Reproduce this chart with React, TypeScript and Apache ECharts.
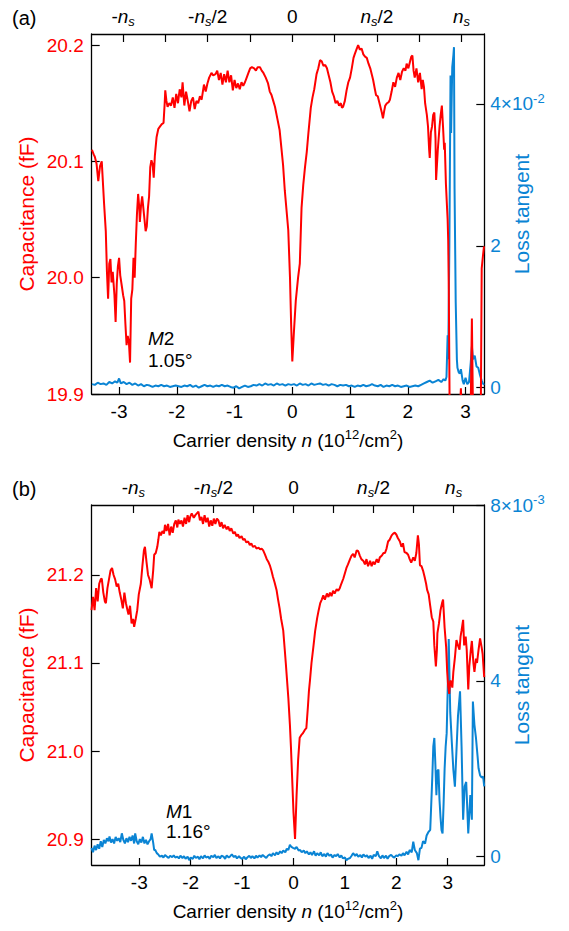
import React, { useEffect, useRef } from "react";
import * as echarts from "echarts";

const RED = "#ff0000";
const BLUE = "#0a84d4";
const FONT = "'Liberation Sans', Arial, Helvetica, sans-serif";

// ---------- panel (a) : M2, 1.05 deg ----------
const aCapN = [
  -3.47, -3.44, -3.42, -3.39, -3.36, -3.33, -3.3, -3.28, -3.26, -3.23, -3.21, -3.19, -3.17, -3.15, -3.13, -3.11,
  -3.08, -3.06, -3.04, -3.02, -3.0, -2.98, -2.95, -2.93, -2.91, -2.89, -2.87, -2.85, -2.83, -2.81, -2.79, -2.77,
  -2.75, -2.73, -2.71, -2.69, -2.67, -2.65, -2.64, -2.62, -2.6, -2.58, -2.56, -2.54, -2.52, -2.5, -2.48, -2.46,
  -2.44, -2.42, -2.4, -2.38, -2.35, -2.32, -2.29, -2.26, -2.23, -2.21, -2.2, -2.18, -2.16, -2.13, -2.1, -2.07,
  -2.04, -2.01, -1.98, -1.95, -1.92, -1.9, -1.87, -1.84, -1.81, -1.78, -1.75, -1.72, -1.69, -1.66, -1.63, -1.6,
  -1.57, -1.53, -1.5, -1.47, -1.44, -1.4, -1.37, -1.33, -1.3, -1.27, -1.24, -1.21, -1.18, -1.15, -1.12, -1.09,
  -1.06, -1.03, -1.0, -0.97, -0.94, -0.91, -0.88, -0.85, -0.82, -0.79, -0.76, -0.73, -0.7, -0.66, -0.63, -0.6,
  -0.56, -0.53, -0.5, -0.46, -0.42, -0.39, -0.36, -0.33, -0.3, -0.26, -0.22, -0.19, -0.16, -0.13, -0.1, -0.07,
  -0.04, -0.02, 0.0, 0.03, 0.06, 0.1, 0.13, 0.16, 0.19, 0.22, 0.25, 0.28, 0.32, 0.35, 0.38, 0.42,
  0.45, 0.48, 0.51, 0.54, 0.57, 0.6, 0.63, 0.66, 0.69, 0.72, 0.75, 0.78, 0.81, 0.84, 0.86, 0.88,
  0.91, 0.94, 0.97, 1.0, 1.03, 1.06, 1.08, 1.11, 1.14, 1.17, 1.2, 1.23, 1.26, 1.29, 1.32, 1.35,
  1.38, 1.4, 1.43, 1.45, 1.48, 1.52, 1.55, 1.57, 1.59, 1.61, 1.64, 1.67, 1.69, 1.72, 1.75, 1.78,
  1.81, 1.84, 1.87, 1.9, 1.93, 1.96, 1.98, 2.01, 2.04, 2.06, 2.08, 2.1, 2.12, 2.15, 2.18, 2.21,
  2.24, 2.26, 2.28, 2.3, 2.33, 2.35, 2.37, 2.38, 2.4, 2.42, 2.44, 2.46, 2.48, 2.49, 2.52, 2.55,
  2.57, 2.59, 2.61, 2.63, 2.64, 2.66, 2.68, 2.69, 2.7, 2.71, 2.73, 2.76, 2.8, 2.84, 2.88, 2.92,
  2.94, 2.98, 3.02, 3.06, 3.09, 3.11, 3.13, 3.16, 3.19, 3.21, 3.23, 3.26, 3.28, 3.3, 3.32,
];
const aCap = [
  20.11, 20.106, 20.104, 20.098, 20.083, 20.096, 20.1, 20.082, 20.064, 20.04, 20.005, 19.982, 20.012, 20.016, 19.996, 20.005,
  19.985, 19.962, 19.995, 20.01, 20.017, 20.002, 19.992, 19.985, 19.98, 19.96, 19.942, 19.95, 19.945, 19.927, 19.982, 19.99,
  20.017, 20.0, 20.03, 20.055, 20.072, 20.06, 20.048, 20.062, 20.07, 20.06, 20.05, 20.04, 20.044, 20.06, 20.07, 20.095,
  20.101, 20.098, 20.086, 20.105, 20.121, 20.128, 20.13, 20.132, 20.133, 20.15, 20.161, 20.152, 20.147, 20.15, 20.148, 20.155,
  20.146, 20.158, 20.15, 20.162, 20.155, 20.168, 20.148, 20.16, 20.152, 20.143, 20.152, 20.155, 20.145, 20.152, 20.15, 20.156,
  20.153, 20.166, 20.16, 20.167, 20.172, 20.176, 20.174, 20.175, 20.178, 20.17, 20.176, 20.166, 20.175, 20.168, 20.178, 20.168,
  20.174, 20.161, 20.17, 20.163, 20.167, 20.162, 20.168, 20.165, 20.168, 20.172, 20.176, 20.18, 20.181, 20.18, 20.178, 20.181,
  20.181, 20.178, 20.176, 20.172, 20.167, 20.16, 20.157, 20.152, 20.147, 20.137, 20.127, 20.112, 20.097, 20.075, 20.058, 20.041,
  20.0, 19.96, 19.928, 19.955, 19.98, 20.0, 20.012, 20.06, 20.08, 20.095, 20.108, 20.125, 20.146, 20.155, 20.162, 20.175,
  20.18, 20.187, 20.186, 20.182, 20.183, 20.18, 20.174, 20.168, 20.16, 20.156, 20.15, 20.152, 20.148, 20.15, 20.146, 20.147,
  20.152, 20.161, 20.168, 20.172, 20.18, 20.189, 20.192, 20.196, 20.2, 20.196, 20.197, 20.192, 20.19, 20.189, 20.184, 20.18,
  20.174, 20.17, 20.162, 20.157, 20.156, 20.148, 20.142, 20.137, 20.143, 20.148, 20.15, 20.151, 20.153, 20.16, 20.168, 20.164,
  20.172, 20.176, 20.17, 20.177, 20.18, 20.178, 20.184, 20.18, 20.186, 20.19, 20.191, 20.178, 20.172, 20.18, 20.168, 20.176,
  20.162, 20.17, 20.164, 20.15, 20.14, 20.13, 20.11, 20.103, 20.125, 20.13, 20.14, 20.142, 20.12, 20.084, 20.11, 20.13,
  20.14, 20.148, 20.13, 20.11, 20.116, 20.081, 20.06, 20.05, 20.032, 19.99, 19.85, 19.82, 19.84, 19.85, 19.86, 19.905,
  19.87, 19.85, 19.84, 19.86, 19.89, 19.965, 19.88, 19.85, 19.88, 19.89, 19.86, 19.85, 20.008, 20.018, 20.027,
];
// loss tangent in units of 10^-2
const aLossN = [
  -3.47, -3.42, -3.37, -3.32, -3.27, -3.22, -3.17, -3.12, -3.07, -3.03, -3.0, -2.97, -2.92, -2.87, -2.82, -2.77,
  -2.72, -2.67, -2.62, -2.57, -2.52, -2.47, -2.42, -2.37, -2.32, -2.27, -2.22, -2.17, -2.12, -2.07, -2.02, -1.97,
  -1.92, -1.87, -1.82, -1.77, -1.72, -1.67, -1.62, -1.57, -1.52, -1.47, -1.42, -1.37, -1.32, -1.27, -1.22, -1.17,
  -1.12, -1.07, -1.02, -0.97, -0.92, -0.87, -0.82, -0.77, -0.72, -0.67, -0.62, -0.57, -0.52, -0.47, -0.42, -0.37,
  -0.32, -0.27, -0.22, -0.17, -0.12, -0.07, -0.02, 0.03, 0.08, 0.13, 0.18, 0.23, 0.28, 0.33, 0.38, 0.43,
  0.48, 0.53, 0.58, 0.63, 0.68, 0.73, 0.78, 0.83, 0.88, 0.93, 0.98, 1.03, 1.08, 1.13, 1.18, 1.23,
  1.28, 1.33, 1.38, 1.43, 1.48, 1.53, 1.58, 1.63, 1.68, 1.73, 1.78, 1.83, 1.88, 1.93, 1.98, 2.03,
  2.08, 2.13, 2.18, 2.23, 2.28, 2.33, 2.38, 2.43, 2.48, 2.53, 2.58, 2.62, 2.65, 2.67, 2.69, 2.7,
  2.72, 2.74, 2.75, 2.77, 2.79, 2.8, 2.81, 2.83, 2.85, 2.86, 2.88, 2.9, 2.92, 2.95, 2.97, 3.0,
  3.03, 3.06, 3.09, 3.11, 3.13, 3.16, 3.19, 3.22, 3.25, 3.28, 3.3, 3.32,
];
const aLoss = [
  0.05, 0.04, 0.07, 0.05, 0.06, 0.04, 0.08, 0.06, 0.09, 0.07, 0.13, 0.06, 0.08, 0.05, 0.07, 0.04,
  0.06, 0.03, 0.05, 0.02, 0.04, 0.03, 0.01, 0.03, 0.02, 0.04, 0.02, 0.03, 0.01, 0.02, 0.03, 0.02,
  0.01, 0.03, 0.02, 0.04, 0.01, 0.03, 0.0, 0.02, 0.04, 0.02, 0.03, 0.01, 0.03, 0.02, 0.04, 0.02,
  0.03, 0.01, 0.0, 0.02, -0.01, 0.01, 0.03, 0.01, 0.02, 0.04, 0.03, 0.05, 0.03, 0.06, 0.04, 0.05,
  0.03, 0.06, 0.04, 0.05, 0.03, 0.05, 0.04, 0.05, 0.03, 0.06, 0.04, 0.05, 0.03, 0.06, 0.04, 0.05,
  0.06, 0.04, 0.05, 0.03, 0.05, 0.04, 0.02, 0.04, 0.03, 0.04, 0.02, 0.03, 0.01, 0.03, 0.02, 0.04,
  0.02, 0.03, 0.05, 0.03, 0.02, 0.04, 0.01, 0.03, 0.02, 0.04, 0.02, 0.03, 0.01, 0.02, 0.03, 0.01,
  0.02, 0.03, 0.02, 0.04, 0.06, 0.08, 0.1, 0.07, 0.09, 0.11, 0.08, 0.12, 0.1, 0.15, 0.74, 0.4,
  2.0, 4.4, 3.59, 4.52, 4.69, 4.8, 2.8, 1.2, 0.4, 0.28, 0.22, 0.2, 0.26, 0.1, 0.05, 0.14,
  0.05, 0.08, 0.35, 0.58, 0.4, 0.45, 0.3, 0.28, 0.18, 0.1, 0.06, 0.04,
];

// ---------- panel (b) : M1, 1.16 deg ----------
const bCapN = [
  -3.93, -3.9, -3.87, -3.84, -3.81, -3.78, -3.75, -3.73, -3.7, -3.67, -3.65, -3.62, -3.59, -3.56, -3.53, -3.5,
  -3.47, -3.44, -3.41, -3.38, -3.35, -3.32, -3.29, -3.26, -3.23, -3.21, -3.18, -3.15, -3.12, -3.1, -3.07, -3.04,
  -3.01, -2.97, -2.94, -2.91, -2.89, -2.86, -2.83, -2.8, -2.78, -2.76, -2.73, -2.71, -2.68, -2.65, -2.63, -2.61,
  -2.58, -2.55, -2.52, -2.5, -2.47, -2.44, -2.41, -2.38, -2.35, -2.32, -2.29, -2.26, -2.24, -2.21, -2.18, -2.15,
  -2.12, -2.09, -2.06, -2.03, -2.01, -1.98, -1.94, -1.91, -1.88, -1.85, -1.82, -1.79, -1.76, -1.73, -1.7, -1.67,
  -1.64, -1.61, -1.58, -1.55, -1.52, -1.49, -1.46, -1.43, -1.4, -1.37, -1.34, -1.3, -1.27, -1.24, -1.21, -1.17,
  -1.14, -1.11, -1.08, -1.05, -1.01, -0.98, -0.95, -0.92, -0.88, -0.85, -0.82, -0.79, -0.75, -0.72, -0.68, -0.65,
  -0.62, -0.59, -0.56, -0.52, -0.49, -0.46, -0.43, -0.4, -0.37, -0.33, -0.3, -0.27, -0.24, -0.2, -0.17, -0.15,
  -0.13, -0.1, -0.07, -0.05, -0.02, 0.0, 0.03, 0.06, 0.09, 0.12, 0.15, 0.18, 0.22, 0.25, 0.28, 0.3,
  0.32, 0.35, 0.39, 0.42, 0.46, 0.49, 0.52, 0.55, 0.58, 0.61, 0.65, 0.68, 0.71, 0.74, 0.77, 0.8,
  0.84, 0.87, 0.9, 0.93, 0.97, 1.0, 1.03, 1.06, 1.1, 1.13, 1.16, 1.19, 1.23, 1.26, 1.29, 1.32,
  1.36, 1.39, 1.42, 1.45, 1.49, 1.52, 1.55, 1.58, 1.62, 1.65, 1.68, 1.72, 1.75, 1.78, 1.81, 1.84,
  1.87, 1.91, 1.94, 1.97, 2.0, 2.03, 2.07, 2.1, 2.13, 2.16, 2.2, 2.23, 2.26, 2.29, 2.33, 2.36,
  2.39, 2.42, 2.44, 2.46, 2.49, 2.52, 2.55, 2.58, 2.6, 2.63, 2.66, 2.69, 2.72, 2.74, 2.77, 2.79,
  2.8, 2.83, 2.86, 2.89, 2.91, 2.94, 2.97, 2.99, 3.01, 3.03, 3.05, 3.07, 3.09, 3.11, 3.14, 3.17,
  3.2, 3.23, 3.25, 3.27, 3.3, 3.32, 3.35, 3.37, 3.4, 3.42, 3.45, 3.47, 3.5, 3.52, 3.55, 3.57,
  3.6, 3.63, 3.66, 3.68, 3.71,
];
const bCap = [
  21.16, 21.175, 21.16, 21.185, 21.17, 21.19, 21.195, 21.196, 21.18, 21.17, 21.168, 21.185, 21.195, 21.205, 21.208, 21.2,
  21.195, 21.187, 21.19, 21.18, 21.172, 21.162, 21.18, 21.168, 21.16, 21.155, 21.165, 21.145, 21.15, 21.141, 21.15, 21.16,
  21.178, 21.19, 21.21, 21.228, 21.232, 21.215, 21.2, 21.195, 21.19, 21.185, 21.205, 21.223, 21.225, 21.232, 21.24, 21.249,
  21.245, 21.25, 21.247, 21.257, 21.25, 21.258, 21.245, 21.255, 21.248, 21.258, 21.262, 21.254, 21.263, 21.258, 21.262, 21.255,
  21.265, 21.258, 21.268, 21.26, 21.266, 21.27, 21.265, 21.268, 21.27, 21.272, 21.262, 21.266, 21.258, 21.268, 21.26, 21.265,
  21.255, 21.262, 21.256, 21.264, 21.258, 21.264, 21.262, 21.255, 21.26, 21.253, 21.257, 21.252, 21.255, 21.25, 21.253, 21.247,
  21.249, 21.244, 21.246, 21.242, 21.244, 21.24, 21.241, 21.237, 21.238, 21.234, 21.236, 21.232, 21.233, 21.23, 21.231, 21.229,
  21.23, 21.228, 21.224, 21.218, 21.215, 21.211, 21.205, 21.198, 21.192, 21.183, 21.172, 21.162, 21.15, 21.137, 21.115, 21.1,
  21.084, 21.06, 21.03, 21.005, 20.96, 20.93, 20.9, 20.95, 20.99, 21.015, 21.018, 21.02, 21.024, 21.026, 21.05, 21.068,
  21.08, 21.1, 21.12, 21.136, 21.151, 21.16, 21.168, 21.172, 21.177, 21.172, 21.179, 21.175, 21.18, 21.176, 21.182, 21.179,
  21.184, 21.182, 21.185, 21.19, 21.196, 21.202, 21.208, 21.212, 21.218, 21.222, 21.224, 21.22, 21.228, 21.227, 21.222, 21.218,
  21.216, 21.212, 21.218, 21.21, 21.216, 21.21, 21.215, 21.212, 21.218, 21.214, 21.22, 21.222, 21.225, 21.225, 21.23, 21.238,
  21.24, 21.245, 21.247, 21.248, 21.246, 21.242, 21.238, 21.232, 21.236, 21.226, 21.225, 21.223, 21.218, 21.214, 21.22, 21.216,
  21.225, 21.245, 21.235, 21.211, 21.21, 21.205, 21.198, 21.19, 21.183, 21.178, 21.165, 21.152, 21.147, 21.12, 21.096, 21.115,
  21.134, 21.145, 21.16, 21.168, 21.172, 21.14, 21.118, 21.09, 21.073, 21.065, 21.08, 21.078, 21.072, 21.09, 21.106, 21.126,
  21.12, 21.115, 21.13, 21.137, 21.149, 21.12, 21.13, 21.115, 21.07, 21.096, 21.115, 21.125, 21.1, 21.09, 21.105, 21.1,
  21.115, 21.128, 21.118, 21.11, 21.084,
];
// loss tangent in units of 10^-3
const bLossN = [
  -3.93, -3.9, -3.87, -3.84, -3.81, -3.78, -3.75, -3.72, -3.69, -3.66, -3.63, -3.6, -3.58, -3.55, -3.52, -3.49,
  -3.46, -3.43, -3.4, -3.37, -3.34, -3.31, -3.28, -3.25, -3.22, -3.19, -3.16, -3.13, -3.1, -3.08, -3.05, -3.02,
  -2.99, -2.96, -2.93, -2.9, -2.87, -2.84, -2.81, -2.78, -2.76, -2.73, -2.71, -2.69, -2.66, -2.63, -2.6, -2.56,
  -2.53, -2.5, -2.46, -2.43, -2.4, -2.36, -2.33, -2.3, -2.26, -2.23, -2.2, -2.16, -2.13, -2.1, -2.06, -2.03,
  -2.0, -1.96, -1.93, -1.9, -1.86, -1.83, -1.8, -1.76, -1.73, -1.7, -1.66, -1.63, -1.6, -1.56, -1.53, -1.5,
  -1.46, -1.43, -1.4, -1.36, -1.33, -1.3, -1.26, -1.23, -1.2, -1.16, -1.13, -1.1, -1.06, -1.03, -1.0, -0.96,
  -0.93, -0.9, -0.86, -0.83, -0.8, -0.76, -0.73, -0.7, -0.66, -0.63, -0.6, -0.56, -0.53, -0.5, -0.46, -0.43,
  -0.4, -0.36, -0.33, -0.3, -0.26, -0.23, -0.2, -0.16, -0.13, -0.1, -0.07, -0.04, -0.01, 0.03, 0.06, 0.1,
  0.13, 0.16, 0.2, 0.23, 0.26, 0.3, 0.33, 0.36, 0.4, 0.43, 0.46, 0.5, 0.53, 0.56, 0.6, 0.63,
  0.66, 0.7, 0.73, 0.76, 0.8, 0.83, 0.86, 0.9, 0.93, 0.96, 1.0, 1.03, 1.06, 1.1, 1.13, 1.16,
  1.2, 1.23, 1.26, 1.3, 1.33, 1.36, 1.4, 1.43, 1.46, 1.5, 1.53, 1.56, 1.6, 1.63, 1.66, 1.7,
  1.73, 1.76, 1.8, 1.83, 1.86, 1.9, 1.93, 1.96, 2.0, 2.03, 2.06, 2.1, 2.13, 2.16, 2.2, 2.23,
  2.26, 2.3, 2.33, 2.36, 2.4, 2.43, 2.46, 2.49, 2.52, 2.56, 2.59, 2.62, 2.66, 2.68, 2.7, 2.72,
  2.74, 2.76, 2.78, 2.8, 2.82, 2.84, 2.86, 2.88, 2.9, 2.92, 2.94, 2.96, 2.98, 3.0, 3.02, 3.04,
  3.05, 3.08, 3.11, 3.14, 3.17, 3.2, 3.24, 3.27, 3.3, 3.33, 3.36, 3.4, 3.44, 3.47, 3.49, 3.52,
  3.55, 3.58, 3.6, 3.63, 3.66, 3.69, 3.71,
];
const bLoss = [
  0.2, 0.1, 0.25, 0.15, 0.28, 0.18, 0.35, 0.22, 0.38, 0.3, 0.42, 0.35, 0.46, 0.32, 0.4, 0.3,
  0.45, 0.36, 0.42, 0.33, 0.53, 0.38, 0.3, 0.42, 0.33, 0.45, 0.36, 0.48, 0.3, 0.53, 0.35, 0.28,
  0.4, 0.32, 0.45, 0.3, 0.38, 0.28, 0.35, 0.4, 0.53, 0.32, 0.15, 0.15, 0.08, 0.05, 0.0, 0.02,
  -0.02, 0.04, 0.0, -0.03, 0.02, -0.01, 0.03, -0.02, 0.0, -0.04, 0.02, -0.03, 0.01, -0.05, 0.0, -0.08,
  -0.02, -0.05, 0.02, -0.03, 0.0, -0.06, 0.01, -0.04, 0.03, -0.02, 0.0, -0.05, 0.02, -0.01, 0.04, -0.03,
  0.01, -0.04, 0.02, 0.0, -0.05, 0.03, -0.02, 0.01, 0.05, -0.01, 0.02, -0.04, 0.01, -0.03, -0.05, 0.0,
  -0.06, -0.02, 0.02, -0.03, 0.01, -0.04, 0.02, -0.02, 0.03, -0.01, 0.04, 0.0, -0.03, 0.02, 0.05, 0.01,
  0.08, 0.03, 0.1, 0.05, 0.12, 0.08, 0.14, 0.1, 0.18, 0.15, 0.27, 0.22, 0.2, 0.18, 0.22, 0.14,
  0.15, 0.1, 0.14, 0.08, 0.12, 0.05, 0.1, 0.04, 0.12, 0.02, 0.08, 0.03, 0.1, 0.01, 0.06, 0.0,
  0.08, 0.02, 0.05, -0.02, 0.04, 0.01, 0.06, -0.02, 0.03, -0.04, -0.02, -0.08, -0.05, -0.03, 0.02, 0.08,
  0.02, 0.06, 0.0, 0.04, -0.02, 0.05, 0.0, 0.03, -0.03, 0.02, -0.05, 0.04, 0.01, 0.12, 0.02, -0.04,
  0.03, -0.03, 0.02, -0.05, 0.01, 0.04, 0.0, -0.02, 0.03, 0.01, 0.05, 0.02, 0.08, 0.03, 0.11, 0.05,
  0.15, 0.1, 0.34, 0.15, 0.08, -0.08, 0.18, 0.2, 0.35, 0.3, 0.48, 0.55, 0.61, 1.2, 1.8, 2.51,
  2.7, 2.1, 1.4, 1.95, 1.98, 1.3, 0.9, 0.6, 0.53, 1.2, 2.0, 2.5, 2.81, 3.8, 4.95, 3.8,
  3.27, 2.6, 1.98, 1.59, 2.4, 3.2, 3.76, 2.5, 0.84, 1.6, 1.7, 0.53, 1.4, 0.84, 3.53, 3.0,
  2.7, 2.3, 2.01, 1.85, 1.8, 1.82, 1.6,
];

// ---------- axes ----------
const aXRange = [-3.474, 3.325];
const bXRange = [-3.926, 3.712];
const aCapRange = [19.9, 20.2095];
const bCapRange = [20.8705, 21.2795];
const aLossRange = [-0.089, 4.986];
const bLossRange = [-0.19, 8.0];
const densityTicks = [-3, -2, -1, 0, 1, 2, 3];
const aCapTicks = [19.9, 20.0, 20.1, 20.2];
const bCapTicks = [20.9, 21.0, 21.1, 21.2];
const aLossTicks = [0, 2, 4];
const bLossTicks = [0, 4, 8];
const aNs = 2.93;
const bNs = 3.115;
const nsTickFractions = [-1, -0.75, -0.5, -0.25, 0, 0.25, 0.5, 0.75, 1];
const nsLabelFractions = [-1, -0.5, 0, 0.5, 1];
const nsLabelTexts = [
  "{b|-}{it|n}{sub|s}",
  "{b|-}{it|n}{sub|s}{b|/2}",
  "{b|0}",
  "{it|n}{sub|s}{b|/2}",
  "{it|n}{sub|s}",
];

const rich = (color: string) => ({
  b: { fontSize: 19, lineHeight: 24, color, fontFamily: FONT },
  it: { fontSize: 19, lineHeight: 24, color, fontStyle: "italic", fontFamily: FONT },
  sub: { fontSize: 13, lineHeight: 13, color, fontStyle: "italic", verticalAlign: "bottom", fontFamily: FONT },
  sup: { fontSize: 13, lineHeight: 13, color, verticalAlign: "top", fontFamily: FONT },
});

const frameLine = { show: true, onZero: false, lineStyle: { color: "#000", width: 1.3 } };
const tickStyle = { color: "#000", width: 1.2 };

function panelAxes(gi: number, xr: number[], ns: number, capR: number[], capTicks: number[], lossR: number[], lossTicks: number[], exp: string) {
  const xAxes = [
    {
      type: "value", gridIndex: gi, position: "bottom", min: xr[0], max: xr[1],
      axisLine: frameLine, splitLine: { show: false },
      axisTick: { show: true, inside: true, length: 7, customValues: densityTicks, lineStyle: tickStyle },
      axisLabel: { customValues: densityTicks, margin: 8, color: "#000", fontSize: 19, fontFamily: FONT, formatter: (v: number) => String(Math.round(v)) },
      name: "{b|Carrier density }{it|n}{b| (10}{sup|12}{b|/cm}{sup|2}{b|)}",
      nameLocation: "middle", nameGap: 34, nameMoveOverlap: false,
      nameTextStyle: { rich: rich("#000") },
    },
    {
      type: "value", gridIndex: gi, position: "top", min: xr[0], max: xr[1],
      axisLine: frameLine, splitLine: { show: false },
      axisTick: { show: true, inside: true, length: 8, customValues: nsTickFractions.map((f) => f * ns), lineStyle: tickStyle },
      axisLabel: {
        customValues: nsLabelFractions.map((f) => f * ns), margin: 6,
        formatter: (v: number) => nsLabelTexts[Math.round((v / ns) * 2) + 2],
        rich: rich("#000"),
      },
    },
  ];
  const yAxes = [
    {
      type: "value", gridIndex: gi, position: "left", min: capR[0], max: capR[1],
      axisLine: frameLine, splitLine: { show: false },
      axisTick: { show: true, inside: true, length: 8, customValues: capTicks, lineStyle: tickStyle },
      axisLabel: { customValues: capTicks, margin: 8, color: RED, fontSize: 19, fontFamily: FONT, formatter: (v: number) => v.toFixed(1) },
      name: "Capacitance (fF)", nameLocation: "middle", nameGap: 55, nameMoveOverlap: false,
      nameTextStyle: { color: RED, fontSize: 21, fontFamily: FONT },
    },
    {
      type: "value", gridIndex: gi, position: "right", min: lossR[0], max: lossR[1],
      axisLine: frameLine, splitLine: { show: false },
      axisTick: { show: true, inside: true, length: 8, customValues: lossTicks, lineStyle: tickStyle },
      axisLabel: {
        customValues: lossTicks, margin: 6, align: "left",
        formatter: (v: number) => (v === lossTicks[lossTicks.length - 1] ? `{b|${v}×10}{sup|${exp}}` : `{b|${v}}`),
        rich: rich(BLUE),
      },
      name: "Loss tangent", nameLocation: "middle", nameGap: 27, nameMoveOverlap: false,
      nameTextStyle: { color: BLUE, fontSize: 21, fontFamily: FONT },
    },
  ];
  return { xAxes, yAxes };
}

const zip = (xs: number[], ys: number[]) => xs.map((x, i) => [x, ys[i]]);

export default function App() {
  const ref = useRef<HTMLDivElement>(null);
  useEffect(() => {
    if (!ref.current) return;
    const chart = echarts.init(ref.current, undefined, { renderer: "svg" });
    const A = panelAxes(0, aXRange, aNs, aCapRange, aCapTicks, aLossRange, aLossTicks, "-2");
    const B = panelAxes(1, bXRange, bNs, bCapRange, bCapTicks, bLossRange, bLossTicks, "-3");
    const lineBase = { type: "line", showSymbol: false, symbol: "none", clip: true, animation: false };
    const annot = (t: string, d: string, x: number, y: number) => [
      { type: "text", x, y, style: { text: `{i|${t}}{n|${d}}`, verticalAlign: "middle", rich: { i: { fontSize: 19, fontStyle: "italic", fontFamily: FONT, fill: "#000" }, n: { fontSize: 19, fontFamily: FONT, fill: "#000" } } } },
    ];
    chart.setOption({
      animation: false,
      backgroundColor: "#fff",
      textStyle: { fontFamily: FONT },
      grid: [
        { left: 91.7, right: 84.7, top: 34, height: 360, containLabel: false, outerBoundsMode: "none" },
        { left: 91.7, right: 84.7, top: 505, height: 360, containLabel: false, outerBoundsMode: "none" },
      ],
      xAxis: [...A.xAxes, ...B.xAxes],
      yAxis: [...A.yAxes, ...B.yAxes],
      series: [
        { ...lineBase, name: "aLoss", xAxisIndex: 0, yAxisIndex: 1, data: zip(aLossN, aLoss), lineStyle: { color: BLUE, width: 2 } },
        { ...lineBase, name: "aCap", xAxisIndex: 0, yAxisIndex: 0, data: zip(aCapN, aCap), lineStyle: { color: RED, width: 2 } },
        { ...lineBase, name: "bLoss", xAxisIndex: 2, yAxisIndex: 3, data: zip(bLossN, bLoss), lineStyle: { color: BLUE, width: 2 } },
        { ...lineBase, name: "bCap", xAxisIndex: 2, yAxisIndex: 2, data: zip(bCapN, bCap), lineStyle: { color: RED, width: 2 } },
      ],
      graphic: [
        { type: "text", x: 12, y: 18, style: { text: "(a)", fontSize: 20, fontFamily: FONT, fill: "#000", verticalAlign: "middle" } },
        { type: "text", x: 12, y: 489, style: { text: "(b)", fontSize: 20, fontFamily: FONT, fill: "#000", verticalAlign: "middle" } },
        ...annot("M", "2", 148, 338),
        { type: "text", x: 148, y: 360, style: { text: "1.05°", fontSize: 19, fontFamily: FONT, fill: "#000", verticalAlign: "middle" } },
        ...annot("M", "1", 166, 811),
        { type: "text", x: 166, y: 831, style: { text: "1.16°", fontSize: 19, fontFamily: FONT, fill: "#000", verticalAlign: "middle" } },
      ],
    });
    return () => chart.dispose();
  }, []);
  return <div ref={ref} style={{ position: "absolute", left: 0, top: 0, width: 569, height: 931 }} />;
}
